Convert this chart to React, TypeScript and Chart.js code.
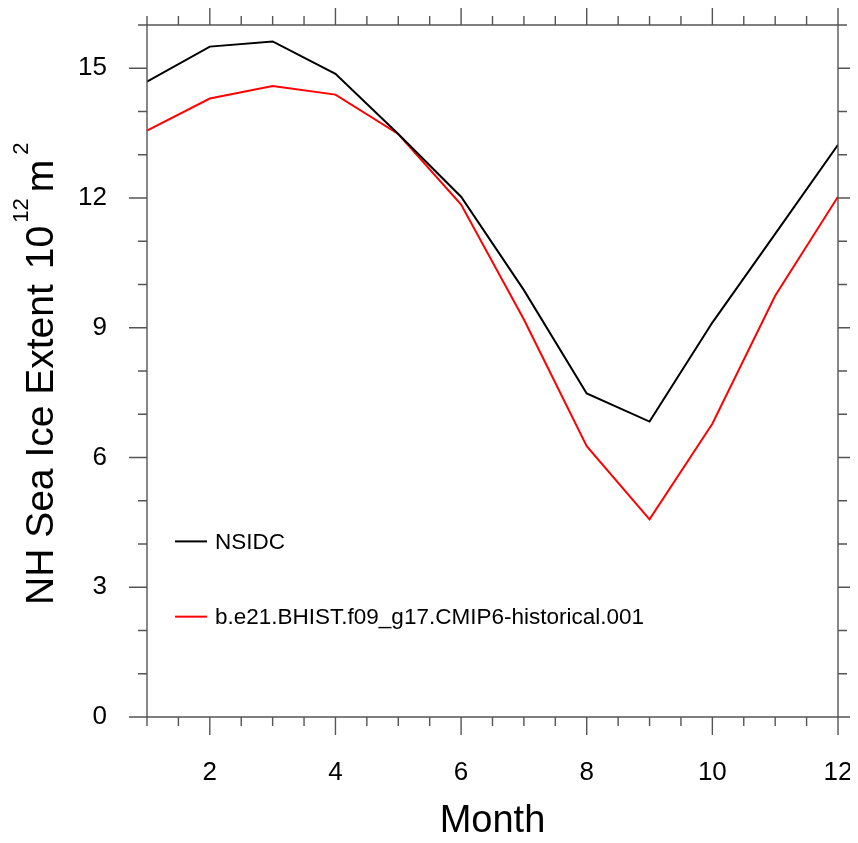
import React, { useEffect, useRef } from 'react';
import { Chart, registerables } from 'chart.js';

Chart.register(...registerables);

const months = [1, 2, 3, 4, 5, 6, 7, 8, 9, 10, 11, 12];
const nsidc = [14.69, 15.5, 15.62, 14.87, 13.48, 12.03, 9.87, 7.48, 6.83, 9.12, 11.17, 13.23];
const model = [13.56, 14.3, 14.59, 14.39, 13.48, 11.85, 9.19, 6.26, 4.57, 6.78, 9.74, 12.03];
const seriesLabels = ['NSIDC', 'b.e21.BHIST.f09_g17.CMIP6-historical.001'];
const seriesColors = ['#000000', '#ff0000'];
const xTickValues = [2, 4, 6, 8, 10, 12];
const xMinorTickValues = [1, 1.5, 2, 2.5, 3, 3.5, 4, 4.5, 5, 5.5, 6, 6.5, 7, 7.5, 8, 8.5, 9, 9.5, 10, 10.5, 11, 11.5, 12];
const yTickValues = [0, 3, 6, 9, 12, 15];
const yMinorTickValues = [0, 1, 2, 3, 4, 5, 6, 7, 8, 9, 10, 11, 12, 13, 14, 15, 16];
const legendYValues = [4.06, 2.32];
const xTitle = 'Month';
// y-axis title pieces: [text, isSuperscript, gapBefore]
const yTitleParts: [string, boolean, number][] = [
  ['NH Sea Ice Extent', false, 0],
  ['10', false, 15],
  ['12', true, 3],
  ['m', false, 6],
  ['2', true, 5],
];

const FONT = '"Liberation Sans", Arial, Helvetica, sans-serif';
const AXIS_COLOR = '#555555';

const framePlugin = {
  id: 'nclFrame',
  afterDatasetsDraw(chart: any) {
    const { ctx, chartArea, scales } = chart;
    const { left, right, top, bottom } = chartArea;
    const xs = scales.x;
    const ys = scales.y;
    const MAJ = 18;
    const MIN = 9;
    ctx.save();
    ctx.strokeStyle = AXIS_COLOR;
    ctx.lineWidth = 1.4;
    ctx.beginPath();
    ctx.rect(left, top, right - left, bottom - top);
    ctx.stroke();
    ctx.beginPath();
    xMinorTickValues.forEach((v) => {
      const px = xs.getPixelForValue(v);
      const len = xTickValues.includes(v) ? MAJ : MIN;
      ctx.moveTo(px, bottom);
      ctx.lineTo(px, bottom + len);
      ctx.moveTo(px, top);
      ctx.lineTo(px, top - len);
    });
    yMinorTickValues.forEach((v) => {
      const py = ys.getPixelForValue(v);
      const len = yTickValues.includes(v) ? MAJ : MIN;
      ctx.moveTo(left, py);
      ctx.lineTo(left - len, py);
      ctx.moveTo(right, py);
      ctx.lineTo(right + len, py);
    });
    ctx.stroke();

    // legend inside plot
    const legendX0 = left + 28;
    const legendX1 = left + 60;
    ctx.font = `22.5px ${FONT}`;
    ctx.textBaseline = 'middle';
    ctx.textAlign = 'left';
    chart.data.datasets.forEach((ds: any, i: number) => {
      const y = ys.getPixelForValue(legendYValues[i]);
      ctx.strokeStyle = ds.borderColor;
      ctx.lineWidth = 2;
      ctx.beginPath();
      ctx.moveTo(legendX0, y);
      ctx.lineTo(legendX1, y);
      ctx.stroke();
      ctx.fillStyle = '#000';
      ctx.fillText(ds.label, legendX1 + 8, y + 1);
    });

    // y-axis title with superscripts, rotated
    const mainFont = `39px ${FONT}`;
    const supFont = `22px ${FONT}`;
    ctx.translate(53, 605);
    ctx.rotate(-Math.PI / 2);
    ctx.fillStyle = '#000';
    ctx.textBaseline = 'alphabetic';
    ctx.textAlign = 'left';
    let pos = 0;
    yTitleParts.forEach(([t, sup, gap]) => {
      ctx.font = sup ? supFont : mainFont;
      pos += gap;
      ctx.fillText(t, pos, sup ? -25 : 0);
      pos += ctx.measureText(t).width;
    });
    ctx.restore();
  },
};

export default function App() {
  const ref = useRef<HTMLCanvasElement | null>(null);
  useEffect(() => {
    if (!ref.current) return;
    document.documentElement.style.overflow = 'hidden';
    document.body.style.overflow = 'hidden';
    const chart = new Chart(ref.current, {
      type: 'line',
      data: {
        datasets: [
          {
            label: seriesLabels[0],
            data: months.map((m, i) => ({ x: m, y: nsidc[i] })),
            borderColor: seriesColors[0],
            backgroundColor: seriesColors[0],
            borderWidth: 2,
            pointRadius: 0,
            tension: 0,
          },
          {
            label: seriesLabels[1],
            data: months.map((m, i) => ({ x: m, y: model[i] })),
            borderColor: seriesColors[1],
            backgroundColor: seriesColors[1],
            borderWidth: 2,
            pointRadius: 0,
            tension: 0,
          },
        ],
      },
      options: {
        animation: false,
        responsive: true,
        maintainAspectRatio: false,
        layout: { padding: { top: 25, right: 20, left: 0, bottom: 0 } },
        plugins: { legend: { display: false }, tooltip: { enabled: false } },
        scales: {
          x: {
            type: 'linear',
            min: 1,
            max: 12,
            afterBuildTicks: (s: any) => {
              s.ticks = xTickValues.map((v) => ({ value: v }));
            },
            afterFit: (s: any) => {
              s.height = 126;
              s.paddingLeft = 0;
              s.paddingRight = 0;
              s.paddingTop = 0;
              s.paddingBottom = 0;
            },
            grid: { display: false, drawTicks: false },
            border: { display: false },
            ticks: {
              color: '#000',
              padding: 40,
              maxRotation: 0,
              autoSkip: false,
              font: { family: FONT, size: 26 },
            },
            title: {
              display: true,
              text: xTitle,
              color: '#000',
              font: { family: FONT, size: 38, lineHeight: 1 },
              padding: { top: 0, bottom: 2 },
            },
          },
          y: {
            type: 'linear',
            min: 0,
            max: 16,
            afterBuildTicks: (s: any) => {
              s.ticks = yTickValues.map((v) => ({ value: v }));
            },
            afterFit: (s: any) => {
              s.width = 147;
              s.paddingLeft = 0;
              s.paddingRight = 0;
              s.paddingTop = 0;
              s.paddingBottom = 0;
            },
            grid: { display: false, drawTicks: false },
            border: { display: false },
            ticks: {
              color: '#000',
              padding: 40,
              autoSkip: false,
              font: { family: FONT, size: 26 },
            },
            title: { display: false },
          },
        },
      },
      plugins: [framePlugin],
    } as any);
    return () => chart.destroy();
  }, []);
  return (
    <div style={{ width: 858, height: 843, margin: -8, position: 'relative', overflow: 'hidden' }}>
      <canvas ref={ref} style={{ display: 'block' }} />
    </div>
  );
}
